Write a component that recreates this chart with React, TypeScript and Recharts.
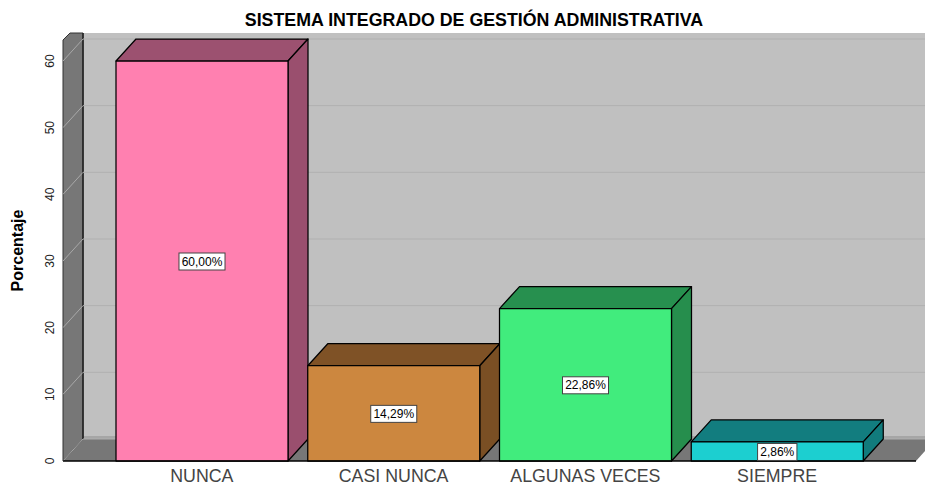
import { BarChart, Bar, XAxis, YAxis, CartesianGrid, LabelList, ReferenceArea } from 'recharts';

const categories = ['NUNCA', 'CASI NUNCA', 'ALGUNAS VECES', 'SIEMPRE'];
const values = [60, 14.29, 22.86, 2.86];
const yTicks = [0, 10, 20, 30, 40, 50, 60];

const FRONT = ['#ff80b0', '#cc873f', '#41ec7d', '#1ccfd0'];
const TOP = ['#9c5170', '#7f5226', '#27904f', '#127d7f'];
const SIDE = ['#9a4f6e', '#7a4f24', '#268e4d', '#117b7c'];

// depth of the fake 3d box
const DX = 20;
const DY = 22;
const CLIP_TOP = 33;
const X_PAD = 43;

const data = categories.map((name, i) => ({ name, value: values[i], i }));

function Walls(props: any) {
  // the reference area only spans the padded part of the x axis
  const x = props.x - X_PAD;
  const width = props.width + X_PAD * 2;
  const { y, height } = props;
  const bottom = y + height;
  const right = x + width;
  return (
    <g>
      <rect x={x + DX} y={CLIP_TOP} width={width} height={bottom - DY - CLIP_TOP} fill="#c0c0c0" />
      <rect x={x + DX} y={bottom - DY - 3} width={width} height={3} fill="#a6a6a6" />
      <polygon
        points={`${x},${bottom} ${x + DX},${bottom - DY} ${right + DX},${bottom - DY} ${right},${bottom}`}
        fill="#777777"
      />
      <polygon
        points={`${x},${y} ${x + 7},${CLIP_TOP} ${x + DX},${CLIP_TOP} ${x + DX},${bottom - DY} ${x},${bottom}`}
        fill="#777777"
        stroke="#333333"
        strokeWidth={1}
      />
      <line x1={x + DX} y1={CLIP_TOP} x2={x + DX} y2={bottom - DY} stroke="#222222" strokeWidth={1.5} />
    </g>
  );
}

function GridRow(props: any) {
  const { x1, y1, x2, y2 } = props;
  return (
    <g>
      {y1 - DY > CLIP_TOP && <line x1={x1 + DX} y1={y1 - DY} x2={x2 + DX} y2={y2 - DY} stroke="#b0b0b0" />}
      <line x1={x1} y1={y1} x2={x1 + DX} y2={y1 - DY} stroke="#a9a9a9" />
    </g>
  );
}

function Box3d(props: any) {
  const { x, y, width, height, payload } = props;
  const i = payload.i;
  const r = x + width;
  const b = y + height;
  return (
    <g stroke="#000000" strokeWidth={1.25} strokeLinejoin="round">
      <polygon points={`${x},${y} ${x + DX},${y - DY} ${r + DX},${y - DY} ${r},${y}`} fill={TOP[i]} />
      <polygon points={`${r},${y} ${r + DX},${y - DY} ${r + DX},${b - DY} ${r},${b}`} fill={SIDE[i]} />
      <rect x={x} y={y} width={width} height={height} fill={FRONT[i]} />
    </g>
  );
}

function PercentLabel(props: any) {
  const { x, y, width, height, value } = props;
  const cx = x + width / 2;
  const cy = y + height / 2;
  const text = value.toFixed(2).replace('.', ',') + '%';
  const boxW = text.length * 6.67 + 6;
  return (
    <g>
      <rect x={cx - boxW / 2} y={cy - 8} width={boxW} height={17} fill="#ffffff" stroke="#444444" strokeWidth={1} />
      <text x={cx} y={cy + 4.5} textAnchor="middle" fontSize={12} fill="#000000">
        {text}
      </text>
    </g>
  );
}

function YTick(props: any) {
  const { x, y, payload } = props;
  return (
    <text x={x - 1} y={y} transform={`rotate(-90 ${x - 1} ${y})`} textAnchor="middle" fontSize={12} fill="#222222">
      {payload.value}
    </text>
  );
}

export default function App() {
  return (
    <div style={{ position: 'absolute', left: 0, top: 0, width: 925, height: 485, background: '#fff', overflow: 'hidden', fontFamily: 'Liberation Sans, Arial, sans-serif' }}>
      <div style={{ position: 'absolute', left: 0, width: 948, top: 10, textAlign: 'center', fontWeight: 'bold', fontSize: 17.8, lineHeight: '20px', color: '#000' }}>
        SISTEMA INTEGRADO DE GESTIÓN ADMINISTRATIVA
      </div>
      <BarChart
        width={925}
        height={485}
        data={data}
        margin={{ top: 40, right: 9, left: 0, bottom: 0 }}
        style={{ position: 'absolute', left: 0, top: 0 }}
      >
        <ReferenceArea y1={0} y2={63.15} shape={<Walls />} ifOverflow="visible" zIndex={-200} />
        <CartesianGrid vertical={false} horizontal={<GridRow />} syncWithTicks />
        <XAxis
          dataKey="name"
          height={24}
          padding={{ left: X_PAD, right: X_PAD }}
          axisLine={{ stroke: '#000000', strokeWidth: 1.5 }}
          tickLine={false}
          interval={0}
          tick={{ fontSize: 17.8, fill: '#444444' }}
          tickMargin={2}
        />
        <YAxis
          width={63}
          domain={[0, 63.15]}
          ticks={yTicks}
          axisLine={false}
          tickLine={false}
          interval={0}
          tick={<YTick />}
          label={{ value: 'Porcentaje', angle: -90, position: 'insideLeft', offset: 17, style: { fontSize: 16, fontWeight: 'bold', fill: '#000', textAnchor: 'middle' } }}
        />
        <Bar dataKey="value" barSize={172} shape={<Box3d />} isAnimationActive={false}>
          <LabelList dataKey="value" content={<PercentLabel />} />
        </Bar>
      </BarChart>
    </div>
  );
}
